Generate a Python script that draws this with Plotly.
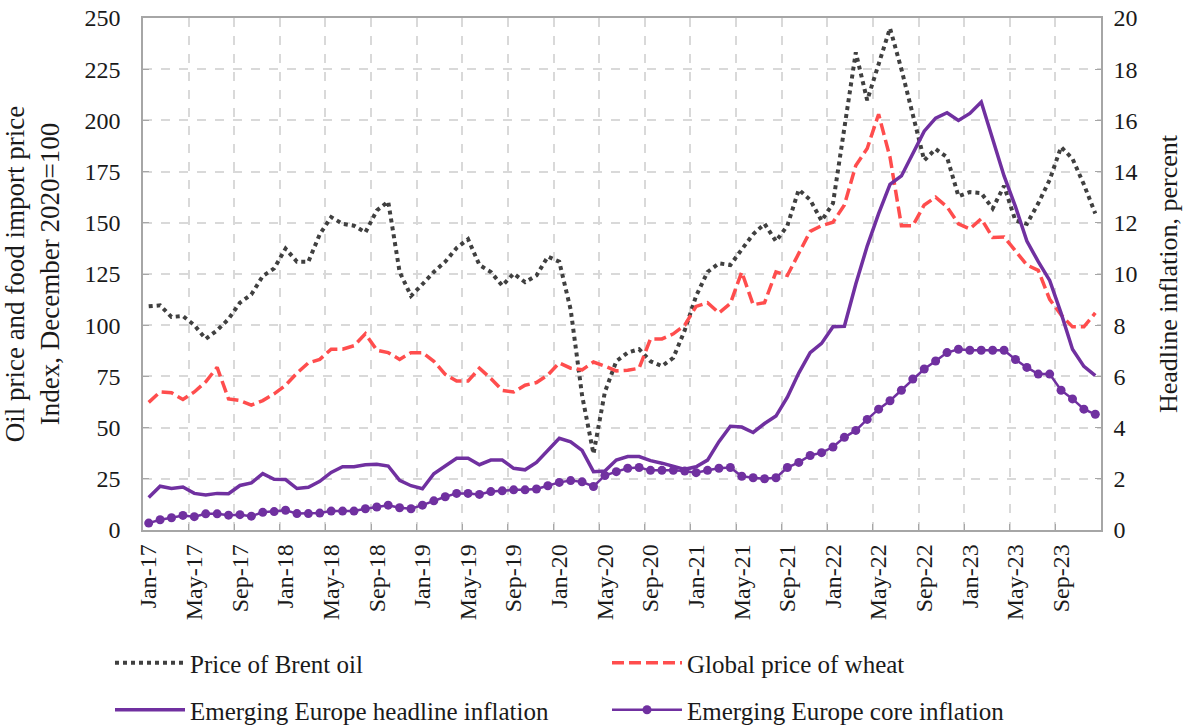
import plotly.graph_objects as go

month_names = ["Jan", "Feb", "Mar", "Apr", "May", "Jun", "Jul", "Aug", "Sep", "Oct", "Nov", "Dec"]
years = ["17", "18", "19", "20", "21", "22", "23"]
months = [f"{m}-{y}" for y in years for m in month_names]

brent_oil = [
    109.2, 109.7, 104.0, 104.5, 100.0, 93.3, 97.5, 103.0, 111.0, 115.0, 124.0, 127.7,
    137.4, 131.0, 131.0, 144.4, 152.8, 149.5, 148.6, 145.3, 156.0, 160.4, 126.0, 114.3,
    120.0, 126.0, 131.0, 137.7, 142.0, 129.4, 126.0, 119.3, 125.2, 121.0, 124.3, 133.5,
    131.0, 107.6, 65.7, 37.2, 67.4, 82.4, 86.6, 88.3, 82.4, 80.0, 84.1, 97.5,
    114.3, 126.0, 130.2, 129.4, 137.0, 144.4, 149.5, 141.0, 148.6, 166.2, 161.2, 151.0,
    159.5, 196.4, 233.2, 209.8, 228.2, 245.0, 225.0, 203.0, 180.5, 186.0, 182.0, 163.0,
    165.0, 164.5, 157.0, 168.0, 151.0, 149.5, 159.5, 171.0, 187.0, 181.3, 168.7, 154.5,
]

wheat = [
    62.3, 67.4, 67.0, 63.7, 67.4, 72.4, 79.4, 64.0, 63.2, 61.0, 63.2, 66.5,
    70.7, 76.6, 81.6, 83.3, 88.3, 88.3, 90.0, 95.8, 87.8, 86.6, 83.3, 86.6,
    86.6, 82.4, 76.0, 72.7, 72.7, 79.0, 74.0, 68.2, 67.4, 70.7, 72.0, 75.7,
    81.6, 79.0, 78.2, 82.0, 80.0, 77.7, 78.0, 79.0, 93.3, 93.3, 95.8, 100.0,
    109.2, 111.0, 106.0, 110.6, 126.0, 110.0, 111.0, 126.0, 124.3, 135.2, 145.8, 148.6,
    150.3, 158.7, 178.0, 186.3, 203.0, 182.0, 148.6, 148.6, 158.7, 162.5, 157.8, 149.5,
    147.0, 152.0, 142.8, 143.1, 136.0, 129.4, 126.8, 112.6, 105.0, 99.2, 99.2, 106.0,
]

headline_inflation = [
    1.27, 1.71, 1.62, 1.68, 1.43, 1.37, 1.43, 1.42, 1.74, 1.84, 2.2, 1.98,
    1.97, 1.62, 1.67, 1.9, 2.25, 2.47, 2.47, 2.55, 2.57, 2.5, 1.94, 1.73,
    1.61, 2.2, 2.5, 2.8, 2.8, 2.55, 2.73, 2.73, 2.41, 2.35, 2.64, 3.11,
    3.58, 3.44, 3.11, 2.28, 2.3, 2.73, 2.87, 2.87, 2.71, 2.61, 2.5, 2.37,
    2.47, 2.73, 3.45, 4.05, 4.02, 3.81, 4.16, 4.45, 5.19, 6.13, 6.93, 7.29,
    7.94, 7.96, 9.61, 11.09, 12.36, 13.5, 13.83, 14.7, 15.58, 16.09, 16.3, 16.0,
    16.27, 16.72, 15.24, 13.83, 12.63, 11.29, 10.48, 9.75, 8.47, 7.06, 6.39, 6.03,
]

core_inflation = [
    0.27, 0.4, 0.48, 0.57, 0.52, 0.63, 0.63, 0.58, 0.6, 0.54, 0.69, 0.72,
    0.77, 0.64, 0.64, 0.66, 0.74, 0.74, 0.74, 0.83, 0.9, 0.97, 0.87, 0.83,
    0.97, 1.14, 1.3, 1.43, 1.43, 1.39, 1.5, 1.53, 1.57, 1.57, 1.6, 1.73,
    1.86, 1.93, 1.88, 1.7, 2.13, 2.28, 2.41, 2.44, 2.33, 2.33, 2.33, 2.3,
    2.24, 2.33, 2.41, 2.44, 2.1, 2.04, 2.0, 2.04, 2.44, 2.64, 2.91, 3.02,
    3.24, 3.62, 3.89, 4.32, 4.72, 5.05, 5.46, 5.9, 6.29, 6.6, 6.93, 7.06,
    7.02, 7.02, 7.02, 7.02, 6.66, 6.35, 6.09, 6.09, 5.46, 5.12, 4.72, 4.52,
]

FONT = "Liberation Serif"
PURPLE = "#7030A0"
RED = "#FF4D4D"
GRAY = "#404040"
AXIS = "#A6A6A6"
GRID = "#D9D9D9"
TEXT = "#1a1a1a"

FIG_W, FIG_H = 1200, 728

fig = go.Figure()
fig.add_trace(go.Scatter(
    x=months, y=brent_oil, name="Price of Brent oil", mode="lines",
    line=dict(color=GRAY, width=4, dash="dot"), legend="legend"))
fig.add_trace(go.Scatter(
    x=months, y=wheat, name="Global price of wheat", mode="lines",
    line=dict(color=RED, width=3.5, dash="12px,5px"), legend="legend2"))
fig.add_trace(go.Scatter(
    x=months, y=headline_inflation, name="Emerging Europe headline inflation", mode="lines",
    line=dict(color=PURPLE, width=3.5), yaxis="y2", legend="legend3"))
fig.add_trace(go.Scatter(
    x=months, y=core_inflation, name="Emerging Europe core inflation", mode="lines+markers",
    line=dict(color=PURPLE, width=2.5), marker=dict(color=PURPLE, size=9),
    yaxis="y2", legend="legend4"))

tickfont = dict(family=FONT, size=24, color=TEXT)
legend_common = dict(
    orientation="h", xref="container", yref="container",
    xanchor="left", yanchor="middle",
    font=dict(family=FONT, size=25, color=TEXT),
    itemwidth=70, bgcolor="rgba(0,0,0,0)",
)
col1_x = 110 / FIG_W
col2_x = 607 / FIG_W
row1_y = 1 - 663 / FIG_H
row2_y = 1 - 710 / FIG_H

fig.update_layout(
    width=FIG_W, height=FIG_H,
    margin=dict(l=143, r=99, t=18, b=198),
    paper_bgcolor="white", plot_bgcolor="white",
    font=dict(family=FONT, size=24, color=TEXT),
    xaxis=dict(
        type="category", categoryorder="array", categoryarray=months,
        range=[-0.5, 83.5], tickmode="linear", tick0=0, dtick=4,
        tickson="boundaries", ticks="inside", ticklen=6, tickcolor=AXIS,
        tickangle=-90, tickfont=tickfont, ticklabelstandoff=3,
        ticklabeloverflow="allow",
        showgrid=True, gridcolor=GRID, griddash="dash", gridwidth=1.5,
        showline=True, linecolor=AXIS, linewidth=1.5, mirror=True,
        zeroline=False, automargin=False,
    ),
    yaxis=dict(
        range=[0, 250], tickmode="linear", tick0=0, dtick=25,
        ticks="inside", ticklen=6, tickcolor=AXIS, tickfont=tickfont,
        ticklabelstandoff=16, ticklabeloverflow="allow",
        showgrid=True, gridcolor=GRID, griddash="dash", gridwidth=1.5,
        showline=True, linecolor=AXIS, linewidth=1.5, mirror=True,
        zeroline=False, automargin=False,
        title=dict(text="Oil price and food import price<br>Index, December 2020=100",
                   font=dict(family=FONT, size=27, color=TEXT), standoff=23),
    ),
    yaxis2=dict(
        overlaying="y", side="right",
        range=[0, 20], tickmode="linear", tick0=0, dtick=2,
        ticks="inside", ticklen=6, tickcolor=AXIS, tickfont=tickfont,
        ticklabelstandoff=6, ticklabeloverflow="allow",
        showgrid=False, showline=True, linecolor=AXIS, linewidth=1.5,
        zeroline=False, automargin=False,
        title=dict(text="Headline inflation, percent",
                   font=dict(family=FONT, size=26, color=TEXT), standoff=22),
    ),
    legend=dict(legend_common, x=col1_x, y=row1_y),
    legend2=dict(legend_common, x=col2_x, y=row1_y),
    legend3=dict(legend_common, x=col1_x, y=row2_y),
    legend4=dict(legend_common, x=col2_x, y=row2_y),
    showlegend=True,
)

# remove the browser's default 8px page margin so the 1200x728 figure fills the window
fig.write_html(
    "out.html",
    config={"displayModeBar": False},
    post_script="document.body.style.margin='0';document.body.style.overflow='hidden';",
)
